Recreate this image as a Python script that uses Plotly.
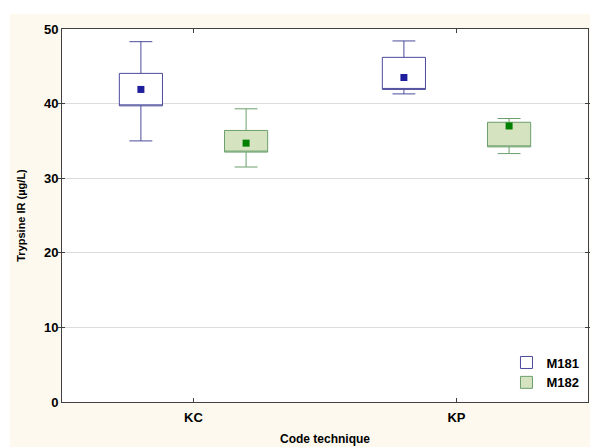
import plotly.graph_objects as go

categories = ["KC", "KP"]
series_names = ["M181", "M182"]

# per-series values: [KC, KP]
m181_mean = [41.9, 43.5]
m181_box_low = [39.7, 41.9]
m181_box_high = [44.05, 46.2]
m181_whisk_low = [35.0, 41.3]
m181_whisk_high = [48.3, 48.4]

m182_mean = [34.7, 37.0]
m182_box_low = [33.5, 34.2]
m182_box_high = [36.4, 37.5]
m182_whisk_low = [31.5, 33.3]
m182_whisk_high = [39.3, 38.0]

y_ticks = [0, 10, 20, 30, 40, 50]

styles = {
    "M181": dict(line="#4B4B9B", fill="#FFFFFF", marker="#1E1E9E"),
    "M182": dict(line="#6B9F6B", fill="#D5E3C1", marker="#008000"),
}

data = {
    "M181": (m181_mean, m181_box_low, m181_box_high, m181_whisk_low, m181_whisk_high),
    "M182": (m182_mean, m182_box_low, m182_box_high, m182_whisk_low, m182_whisk_high),
}

fig = go.Figure()
for name in series_names:
    mean, bl, bh, wl, wh = data[name]
    st = styles[name]
    fig.add_trace(go.Box(
        name=name, x=categories, q1=bl, median=bl, q3=bh,
        lowerfence=wl, upperfence=wh,
        boxpoints=False, whiskerwidth=0.53,
        line=dict(color=st["line"], width=1), fillcolor=st["fill"],
        offsetgroup=name, legendgroup=name, hoverinfo="skip",
    ))

offsets = {"M181": -0.2, "M182": 0.2}
for name in series_names:
    mean = data[name][0]
    st = styles[name]
    fig.add_trace(go.Scatter(
        x=[i + offsets[name] for i in range(len(categories))], y=mean,
        xaxis="x2", mode="markers",
        marker=dict(symbol="square", size=7, color=st["marker"]),
        showlegend=False, hoverinfo="skip",
    ))

font_bold = "Liberation Sans, Arial, sans-serif"
cream = "#FDF9EE"

fig.update_layout(
    width=590, height=447,
    margin=dict(l=62, r=2, t=29, b=45, autoexpand=False),
    paper_bgcolor=cream, plot_bgcolor="#FFFFFF",
    boxmode="group", boxgap=0.2, boxgroupgap=0.59,
    font=dict(family=font_bold, size=12, color="#000000"),
    showlegend=True,
    legend=dict(x=0.845, y=0.012, xanchor="left", yanchor="bottom",
                bgcolor="rgba(0,0,0,0)", tracegroupgap=0, itemwidth=30,
                font=dict(family=font_bold, size=13, color="#000000", weight="bold")),
    xaxis=dict(
        type="category", range=[-0.5, 1.5],
        showline=True, linecolor="#404040", linewidth=1, mirror="allticks",
        ticks="inside", ticklen=4, tickcolor="#404040",
        tickfont=dict(size=13, weight="bold"), ticklabelstandoff=3,
        title=dict(text="Code technique", font=dict(size=12, weight="bold"), standoff=11),
        showgrid=False, zeroline=False,
    ),
    xaxis2=dict(range=[-0.5, 1.5], overlaying="x", visible=False),
    yaxis=dict(
        range=[0, 50], tickvals=y_ticks,
        showline=True, linecolor="#404040", linewidth=1, mirror="allticks",
        ticks="inside", ticklen=3, tickcolor="#404040",
        tickfont=dict(size=13, weight="bold"),
        title=dict(text="Trypsine IR (µg/L)", font=dict(size=11, weight="bold"), standoff=16),
        showgrid=True, gridcolor="#DCDCDC", gridwidth=1, zeroline=False,
    ),
    shapes=[
        dict(type="rect", xref="paper", yref="paper",
             x0=-0.2, x1=1.1, y0=1.040, y1=1.2,
             fillcolor="#FFFFFF", line=dict(width=0), layer="below"),
        dict(type="rect", xref="paper", yref="paper",
             x0=-0.2, x1=-0.0987, y0=-0.2, y1=1.2,
             fillcolor="#FFFFFF", line=dict(width=0), layer="below"),
    ],
)

fig.write_html(
    "out.html",
    config={"displayModeBar": False},
    post_script="document.body.style.margin='0';document.body.style.overflow='hidden';",
)
